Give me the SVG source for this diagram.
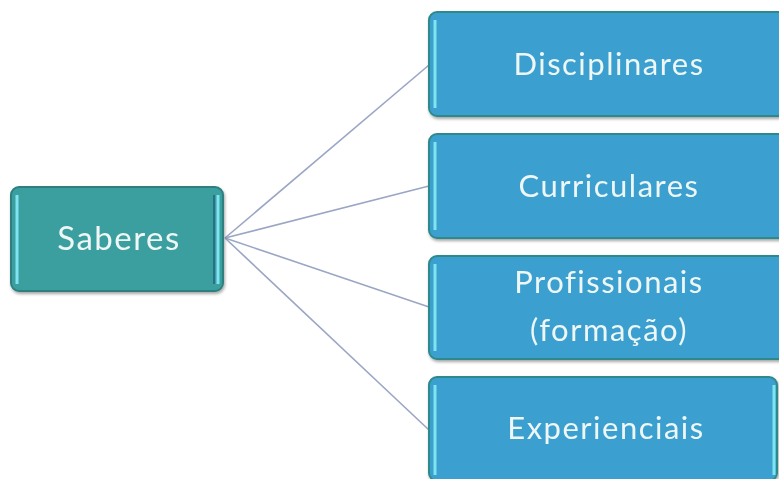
<svg xmlns="http://www.w3.org/2000/svg" width="779" height="479" viewBox="0 0 779 479">
  <defs>
    <filter id="shadow" x="-10%" y="-10%" width="120%" height="130%">
      <feDropShadow dx="1" dy="2" stdDeviation="1.5" flood-color="#000" flood-opacity="0.35"/>
    </filter>
    <style>
      .root { fill: #3a9f9f; stroke: #2d8080; stroke-width: 2; }
      .leaf { fill: #3aa0d0; stroke: #2f8a8a; stroke-width: 2; }
      .edge-hi { stroke: #7fe4f0; stroke-width: 3; fill: none; }
      .edge-lo { stroke: #2c6f8c; stroke-width: 2; fill: none; }
      .label { font-family: "Lato", "Open Sans", sans-serif; font-size: 31px; fill: #eef6f6; text-anchor: middle; letter-spacing: 1.5px; }
      .big { font-size: 33px; }
      .link { stroke: #9aa6c4; stroke-width: 1.6; fill: none; }
    </style>
  </defs>

  <rect width="779" height="479" fill="#ffffff"/>

  <!-- connectors from the root node to each category -->
  <g id="connectors">
    <line class="link" x1="225" y1="238" x2="429" y2="65"/>
    <line class="link" x1="225" y1="238" x2="429" y2="186"/>
    <line class="link" x1="225" y1="238" x2="429" y2="307"/>
    <line class="link" x1="225" y1="238" x2="429" y2="430"/>
  </g>

  <g id="node-saberes" filter="url(#shadow)">
    <rect class="root" x="11" y="187" width="212" height="104" rx="8"/>
    <line class="edge-hi" x1="17" y1="195" x2="17" y2="284"/>
    <line class="edge-hi" x1="218" y1="195" x2="218" y2="284"/>
    <line class="edge-lo" x1="214" y1="195" x2="214" y2="284"/>
    <text class="label big" x="119" y="250">Saberes</text>
  </g>

  <g id="node-disciplinares" filter="url(#shadow)">
    <rect class="leaf" x="429" y="12" width="360" height="104" rx="8"/>
    <line class="edge-hi" x1="435" y1="20" x2="435" y2="108"/>
    <text class="label" x="609" y="75">Disciplinares</text>
  </g>

  <g id="node-curriculares" filter="url(#shadow)">
    <rect class="leaf" x="429" y="134" width="360" height="104" rx="8"/>
    <line class="edge-hi" x1="435" y1="142" x2="435" y2="230"/>
    <text class="label" x="609" y="197">Curriculares</text>
  </g>

  <g id="node-profissionais" filter="url(#shadow)">
    <rect class="leaf" x="429" y="256" width="360" height="103" rx="8"/>
    <line class="edge-hi" x1="435" y1="264" x2="435" y2="351"/>
    <text class="label" x="609" y="293">Profissionais</text>
    <text class="label" x="609" y="341">(formação)</text>
  </g>

  <g id="node-experienciais" filter="url(#shadow)">
    <rect class="leaf" x="429" y="377" width="348" height="104" rx="8"/>
    <line class="edge-hi" x1="435" y1="385" x2="435" y2="475"/>
    <line class="edge-hi" x1="774" y1="385" x2="774" y2="475"/>
    <text class="label" x="606" y="439">Experienciais</text>
  </g>
</svg>
